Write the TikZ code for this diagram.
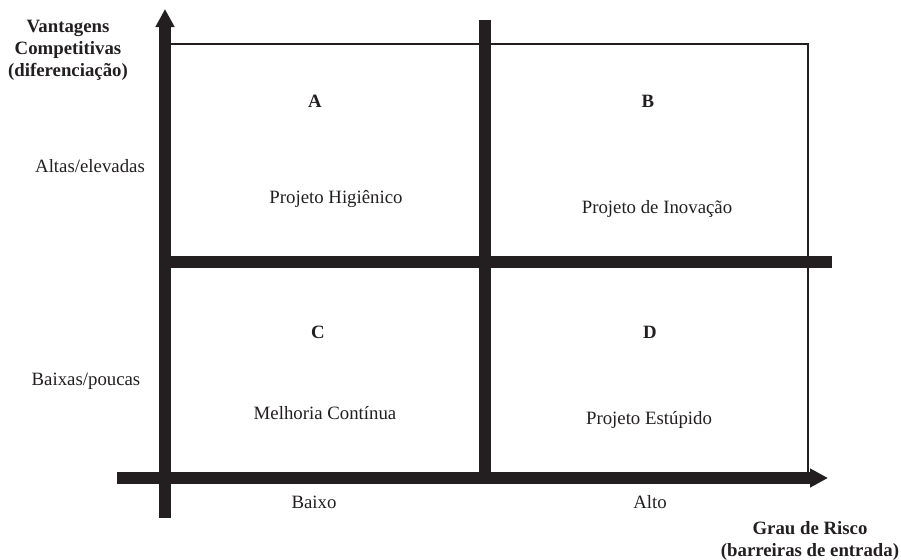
\documentclass[tikz,border=0pt]{standalone}
\usepackage{fontspec}
\setmainfont{Liberation Serif}
\usepackage{xcolor}
\definecolor{inkdark}{HTML}{231F20}
\usetikzlibrary{arrows.meta}

\begin{document}
\begin{tikzpicture}[x=0.5pt, y=-0.5pt,
  axisline/.style={line width=6pt, draw=inkdark,
                   -{Triangle[length=9pt, width=9pt]}},
  divider/.style={line width=6pt, draw=inkdark},
  frame/.style={line width=0.6pt, draw=inkdark},
  quadletter/.style={font=\fontsize{9.4}{11}\selectfont\bfseries,
                     text=inkdark, inner sep=0pt},
  quadtext/.style={font=\fontsize{9.4}{11}\selectfont,
                   text=inkdark, inner sep=0pt},
  axistitle/.style={font=\fontsize{9.4}{11}\selectfont\bfseries,
                    align=center, text=inkdark, inner sep=0pt}
]
\useasboundingbox (0,0) rectangle (901,559);

% ---- PONTOS DOS EIXOS ----
\coordinate (yfoot)    at (165,518);
\coordinate (ytip)     at (165,9);
\coordinate (xfoot)    at (117,478);
\coordinate (xtip)     at (828,478);
\coordinate (midtop)   at (485,20);
\coordinate (midbot)   at (485,478);
\coordinate (midleft)  at (165,262);
\coordinate (midright) at (832,262);
\coordinate (frametl)  at (165,44);
\coordinate (framebr)  at (808,478);

% ---- MOLDURA ----
\draw[frame] (frametl) rectangle (framebr);

% ---- DIVISORES E EIXOS ----
\draw[divider] (midtop) -- (midbot);
\draw[divider] (midleft) -- (midright);
\draw[axisline] (xfoot) -- (xtip);
\draw[axisline] (yfoot) -- (ytip);

% ---- QUADRANTES ----
\node[quadletter] (qa) at (315,101) {A};
\node[quadletter] (qb) at (648,101) {B};
\node[quadletter] (qc) at (318,332) {C};
\node[quadletter] (qd) at (650,332) {D};

\node[quadtext] (ta) at (336,199) {Projeto Higiênico};
\node[quadtext] (tb) at (657,209) {Projeto de Inovação};
\node[quadtext] (tc) at (325,413) {Melhoria Contínua};
\node[quadtext] (td) at (649,420) {Projeto Estúpido};

% ---- ROTULOS DOS EIXOS ----
\node[quadtext] (yhigh) at (90,166) {Altas/elevadas};
\node[quadtext] (ylow)  at (86,381) {Baixas/poucas};
\node[quadtext] (xlow)  at (314,502) {Baixo};
\node[quadtext] (xhigh) at (650,502) {Alto};

\node[axistitle] (ytitle) at (68,50)
  {Vantagens\\Competitivas\\(diferenciação)};
\node[axistitle] (xtitle) at (810,541)
  {Grau de Risco\\(barreiras de entrada)};

\end{tikzpicture}
\end{document}
